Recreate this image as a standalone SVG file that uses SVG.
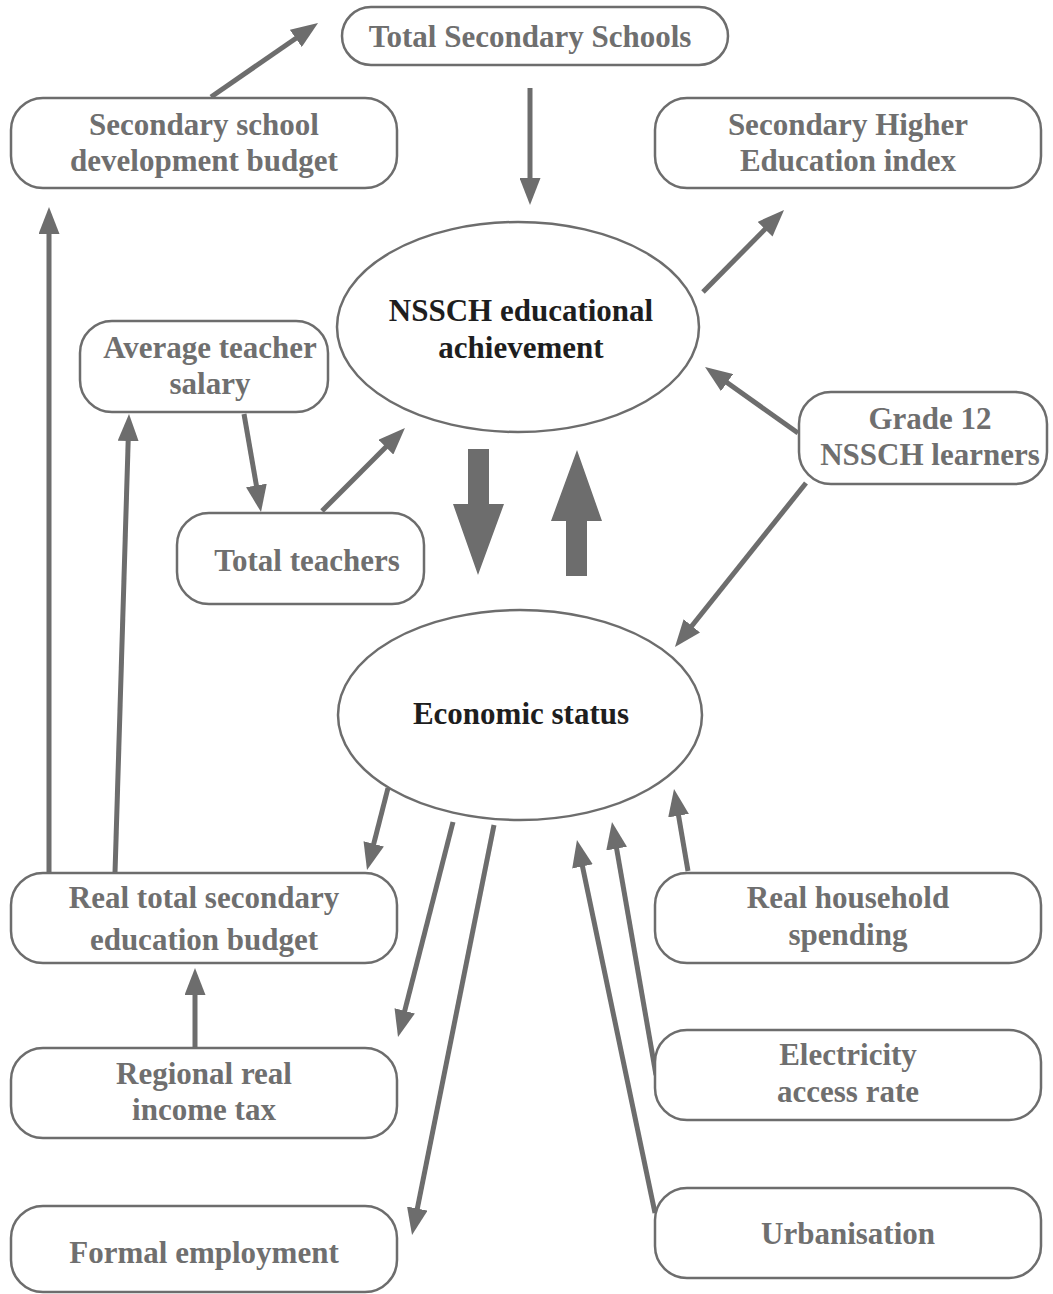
<svg xmlns="http://www.w3.org/2000/svg" width="1053" height="1294" viewBox="0 0 1053 1294">
<style>
.box{fill:#fff;stroke:#6d6d6d;stroke-width:2.5}
.ell{fill:#fff;stroke:#6d6d6d;stroke-width:2.5}
.t{font-family:"Liberation Serif","Times New Roman",serif;font-weight:bold;font-size:31px;fill:#6f6f6f;text-anchor:middle}
.te{font-family:"Liberation Serif","Times New Roman",serif;font-weight:bold;font-size:31px;fill:#1e1e1e;text-anchor:middle}
.c{stroke:#6d6d6d;stroke-width:5;fill:none;marker-end:url(#ah)}
.big{fill:#6d6d6d}
</style>
<defs>
<marker id="ah" markerUnits="userSpaceOnUse" markerWidth="27" markerHeight="21" refX="17" refY="10.5" orient="auto">
<path d="M0,0 L27,10.5 L0,21 z" fill="#6d6d6d"/>
</marker>
</defs>
<rect width="1053" height="1294" fill="#fff"/>

<g id="connectors">
<line class="c" x1="211" y1="97" x2="309.8" y2="28.7"/>
<line class="c" x1="530" y1="88" x2="530" y2="195"/>
<line class="c" x1="703" y1="292" x2="777" y2="217.1"/>
<line class="c" x1="798" y1="433" x2="713.2" y2="372.8"/>
<line class="c" x1="806" y1="483" x2="681.2" y2="639.2"/>
<line class="c" x1="322" y1="511" x2="397.9" y2="435.1"/>
<line class="c" x1="244" y1="414" x2="259.3" y2="502.2"/>
<line class="c" x1="115" y1="873" x2="128.7" y2="424"/>
<line class="c" x1="49" y1="873" x2="49" y2="217"/>
<line class="c" x1="388" y1="788" x2="369.5" y2="860.3"/>
<line class="c" x1="453" y1="822" x2="400.5" y2="1027.3"/>
<line class="c" x1="494" y1="825" x2="414" y2="1225.2"/>
<line class="c" x1="655" y1="1213" x2="579" y2="849.8"/>
<line class="c" x1="656" y1="1075" x2="613.7" y2="831.9"/>
<line class="c" x1="688" y1="871" x2="675.7" y2="798.9"/>
<line class="c" x1="195" y1="1048" x2="195" y2="978"/>
<polygon class="big" points="468,449 489,449 489,504 504,504 478,575 453,504 468,504"/>
<polygon class="big" points="577,450 602,521 587,521 587,576 566,576 566,521 551,521"/>
</g>

<g id="n-total-secondary-schools">
<rect class="box" x="342" y="7" width="386" height="58" rx="29"/>
<text class="t" x="530" y="47">Total Secondary Schools</text>
</g>
<g id="n-sec-dev-budget">
<rect class="box" x="11" y="98" width="386" height="90" rx="32"/>
<text class="t" x="204" y="135">Secondary school</text>
<text class="t" x="204" y="171">development budget</text>
</g>
<g id="n-sec-higher-index">
<rect class="box" x="655" y="98" width="386" height="90" rx="32"/>
<text class="t" x="848" y="135">Secondary Higher</text>
<text class="t" x="848" y="171">Education index</text>
</g>
<g id="n-nssch">
<ellipse class="ell" cx="518" cy="327" rx="181" ry="105"/>
<text class="te" x="521" y="321">NSSCH educational</text>
<text class="te" x="521" y="358">achievement</text>
</g>
<g id="n-avg-salary">
<rect class="box" x="80" y="321" width="248" height="91" rx="32"/>
<text class="t" x="210" y="358">Average teacher</text>
<text class="t" x="210" y="394">salary</text>
</g>
<g id="n-grade12">
<rect class="box" x="799" y="392" width="248" height="92" rx="32"/>
<text class="t" x="930" y="429">Grade 12</text>
<text class="t" x="930" y="465">NSSCH learners</text>
</g>
<g id="n-total-teachers">
<rect class="box" x="177" y="513" width="247" height="91" rx="32"/>
<text class="t" x="307" y="571">Total teachers</text>
</g>
<g id="n-economic">
<ellipse class="ell" cx="520" cy="715" rx="182" ry="105"/>
<text class="te" x="521" y="724">Economic status</text>
</g>
<g id="n-real-total-budget">
<rect class="box" x="11" y="873" width="386" height="90" rx="32"/>
<text class="t" x="204" y="908">Real total secondary</text>
<text class="t" x="204" y="950">education budget</text>
</g>
<g id="n-household">
<rect class="box" x="655" y="873" width="386" height="90" rx="32"/>
<text class="t" x="848" y="908">Real household</text>
<text class="t" x="848" y="945">spending</text>
</g>
<g id="n-regional-tax">
<rect class="box" x="11" y="1048" width="386" height="90" rx="32"/>
<text class="t" x="204" y="1084">Regional real</text>
<text class="t" x="204" y="1120">income tax</text>
</g>
<g id="n-electricity">
<rect class="box" x="655" y="1030" width="386" height="90" rx="32"/>
<text class="t" x="848" y="1065">Electricity</text>
<text class="t" x="848" y="1102">access rate</text>
</g>
<g id="n-formal-employment">
<rect class="box" x="11" y="1206" width="386" height="86" rx="32"/>
<text class="t" x="204" y="1263">Formal employment</text>
</g>
<g id="n-urbanisation">
<rect class="box" x="655" y="1188" width="386" height="90" rx="32"/>
<text class="t" x="848" y="1244">Urbanisation</text>
</g>
</svg>
